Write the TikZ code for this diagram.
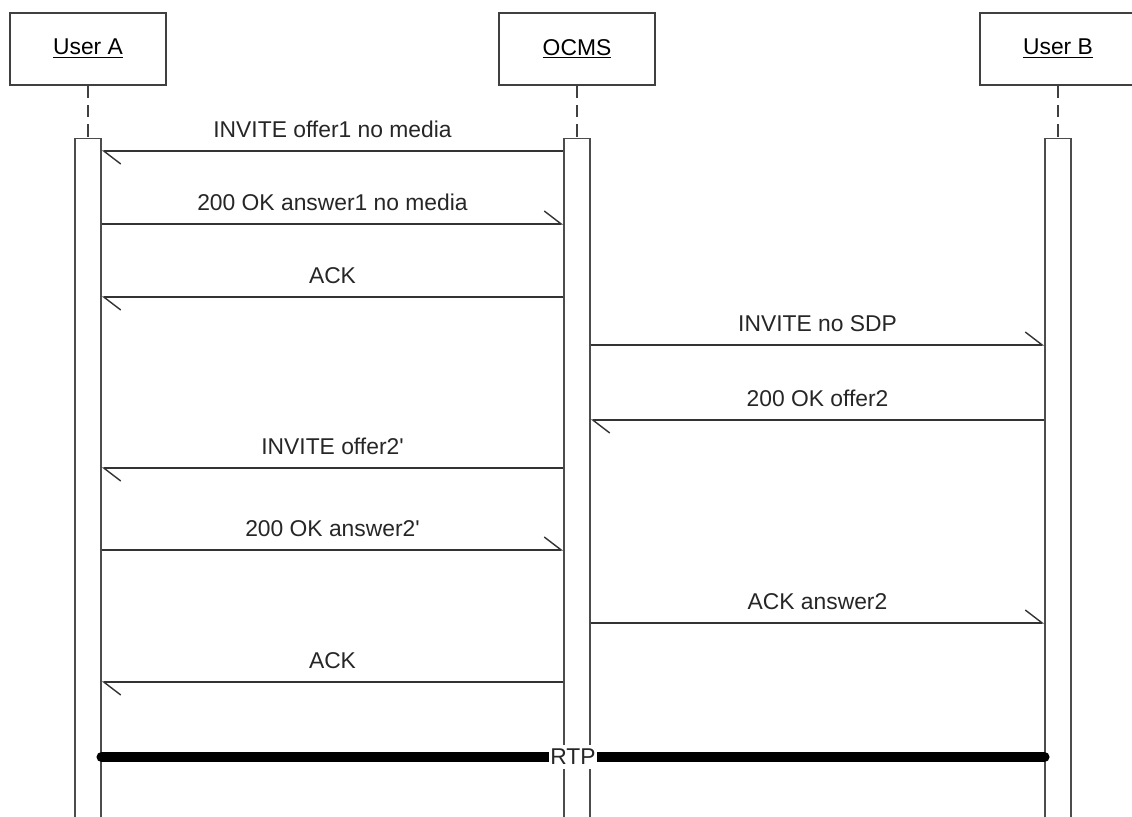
\documentclass[tikz,border=0pt]{standalone}
\usepackage{fontspec}
\setmainfont{Liberation Sans}
\usetikzlibrary{positioning,arrows.meta}

\begin{document}
\begin{tikzpicture}[
    x=0.02cm, y=-0.02cm,
    font=\fontsize{13}{15}\selectfont,
    actor/.style={rectangle, draw=black!75, line width=0.9pt, minimum width=3.12cm, minimum height=1.44cm, align=center, fill=white},
    bar/.style={rectangle, draw=black!70, line width=0.8pt, minimum width=0.52cm, minimum height=14.2cm, fill=white, inner sep=0pt},
    life/.style={draw=black!75, line width=0.9pt, dash pattern=on 7pt off 4pt},
    msg/.style={-{Straight Barb[left, length=0.34cm, width=0.52cm]}, line width=0.8pt, black!80},
    lbl/.style={above=4pt, midway, text=black!85},
    rtp/.style={line width=6pt, line cap=round, black}
]
\useasboundingbox (0,0) rectangle (1132,816);
\clip (0,0) rectangle (1132,816);

% lifelines
\node[actor] (userA) at (88,49) {\underline{User A}};
\node[actor] (ocms) at (577,49) {\underline{OCMS}};
\node[actor] (userB) at (1058,49) {\underline{User B}};
\node[bar, below=1.04cm of userA] (barA) {};
\node[bar, below=1.04cm of ocms] (barO) {};
\node[bar, below=1.04cm of userB] (barB) {};
\draw[life] (userA) -- (barA);
\draw[life] (ocms) -- (barO);
\draw[life] (userB) -- (barB);

% message rows
\coordinate (m1) at (0,151);
\coordinate (m2) at (0,224);
\coordinate (m3) at (0,297);
\coordinate (m4) at (0,345);
\coordinate (m5) at (0,420);
\coordinate (m6) at (0,468);
\coordinate (m7) at (0,550);
\coordinate (m8) at (0,623);
\coordinate (m9) at (0,682);
\coordinate (m10) at (0,757);

\draw[msg] (barO.west |- m1) -- node[lbl] {INVITE offer1 no media} (barA.east |- m1);
\draw[msg] (barA.east |- m2) -- node[lbl] {200 OK answer1 no media} (barO.west |- m2);
\draw[msg] (barO.west |- m3) -- node[lbl] {ACK} (barA.east |- m3);
\draw[msg] (barO.east |- m4) -- node[lbl] {INVITE no SDP} (barB.west |- m4);
\draw[msg] (barB.west |- m5) -- node[lbl] {200 OK offer2} (barO.east |- m5);
\draw[msg] (barO.west |- m6) -- node[lbl] {INVITE offer2\textquotesingle} (barA.east |- m6);
\draw[msg] (barA.east |- m7) -- node[lbl] {200 OK answer2\textquotesingle} (barO.west |- m7);
\draw[msg] (barO.east |- m8) -- node[lbl] {ACK answer2} (barB.west |- m8);
\draw[msg] (barO.west |- m9) -- node[lbl] {ACK} (barA.east |- m9);

% media
\draw[rtp] (barA.east |- m10) -- node[fill=white, text=black!85, inner xsep=0.5pt, inner ysep=2.5pt] (rtp) {RTP} (barB.west |- m10);
\end{tikzpicture}
\end{document}
